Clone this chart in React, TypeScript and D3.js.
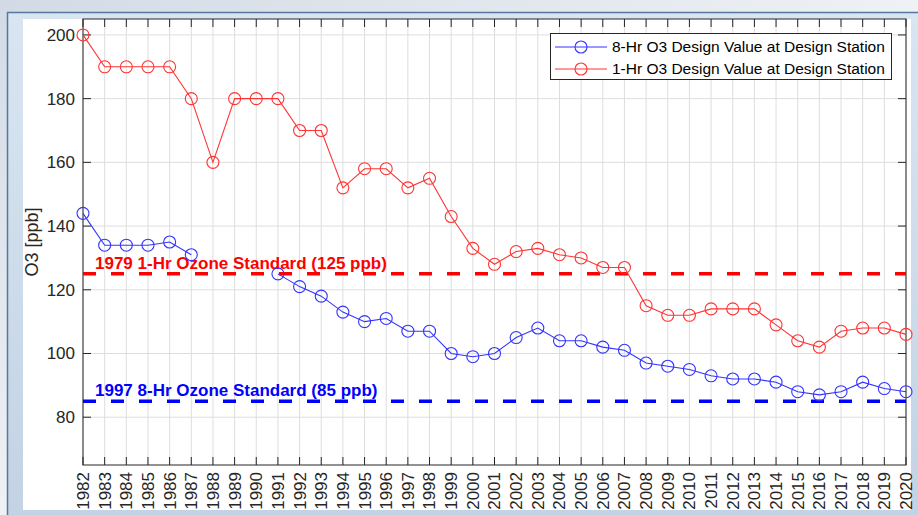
import * as d3 from "d3";

const years = d3.range(1982, 2021);
// 1-Hr design values (ppb), 1982..2020
const oneHr = [
  200, 190, 190, 190, 190, 180, 160, 180, 180, 180, 170, 170, 152, 158, 158, 152,
  155, 143, 133, 128, 132, 133, 131, 130, 127, 127, 115, 112, 112, 114, 114, 114,
  109, 104, 102, 107, 108, 108, 106,
];
// 8-Hr design values (ppb), no data 1988-1990
const eightHr: (number | null)[] = [
  144, 134, 134, 134, 135, 131, null, null, null, 125, 121, 118, 113, 110, 111,
  107, 107, 100, 99, 100, 105, 108, 104, 104, 102, 101, 97, 96, 95, 93, 92, 92,
  91, 88, 87, 88, 91, 89, 88,
];
const yTicks = [80, 100, 120, 140, 160, 180, 200];
const standards = [
  { value: 125, label: "1979 1-Hr Ozone Standard (125 ppb)", color: "#ff0000" },
  { value: 85, label: "1997 8-Hr Ozone Standard (85 ppb)", color: "#0000ff" },
];
const legendItems = [
  { label: "8-Hr O3 Design Value at Design Station", color: "#3333ff" },
  { label: "1-Hr O3 Design Value at Design Station", color: "#ff3333" },
];

const W = 918;
const H = 515;
const left = 83;
const right = 906;
const top = 19;
const bottom = 465;
const axisColor = "#262626";
const font = "'Liberation Sans', Arial, sans-serif";

export default function App() {
  const x = d3.scaleLinear().domain([1982, 2020]).range([left, right]);
  const y = d3.scaleLinear().domain([65, 205]).range([bottom, top]);

  const red = years.map((yr, i) => ({ yr, v: oneHr[i] as number | null }));
  const blue = years.map((yr, i) => ({ yr, v: eightHr[i] }));

  const line = d3
    .line<{ yr: number; v: number | null }>()
    .defined((d) => d.v != null)
    .x((d) => x(d.yr))
    .y((d) => y(d.v as number));

  const tickLen = 8;

  return (
    <svg
      width={W}
      height={H}
      style={{ display: "block", position: "absolute", left: 0, top: 0, fontFamily: font }}
    >
      <defs>
        <linearGradient id="sky" x1="0" y1="0" x2="1" y2="1">
          <stop offset="0" stopColor="#d2dbe5" />
          <stop offset="0.5" stopColor="#eef1f5" />
          <stop offset="1" stopColor="#c9d6e4" />
        </linearGradient>
        <linearGradient id="panel" x1="0" y1="0" x2="0" y2="1">
          <stop offset="0" stopColor="#d9e5f1" />
          <stop offset="1" stopColor="#c3d3e4" />
        </linearGradient>
      </defs>
      <rect x={0} y={0} width={W} height={H} fill="url(#sky)" />
      <rect x={7} y={12} width={W - 7} height={H - 12} fill="url(#panel)" />
      <line x1={7} y1={12.5} x2={W} y2={12.5} stroke="#56789f" strokeWidth={1.5} />
      <line x1={7.5} y1={12} x2={7.5} y2={H} stroke="#56789f" strokeWidth={1.5} />
      <rect x={23} y={19} width={888} height={491} fill="#ffffff" />

      {/* grid */}
      <g stroke="#dedede" strokeWidth={1}>
        {years.map((yr) => (
          <line key={"gx" + yr} x1={x(yr)} x2={x(yr)} y1={top} y2={bottom} />
        ))}
        {yTicks.map((t) => (
          <line key={"gy" + t} x1={left} x2={right} y1={y(t)} y2={y(t)} />
        ))}
      </g>

      {/* ticks */}
      <g stroke={axisColor} strokeWidth={1}>
        {years.map((yr) => (
          <g key={"tx" + yr}>
            <line x1={x(yr)} x2={x(yr)} y1={bottom} y2={bottom - tickLen} />
            <line x1={x(yr)} x2={x(yr)} y1={top} y2={top + tickLen} />
          </g>
        ))}
        {yTicks.map((t) => (
          <g key={"ty" + t}>
            <line x1={left} x2={left + tickLen} y1={y(t)} y2={y(t)} />
            <line x1={right} x2={right - tickLen} y1={y(t)} y2={y(t)} />
          </g>
        ))}
      </g>
      <rect
        x={left}
        y={top}
        width={right - left}
        height={bottom - top}
        fill="none"
        stroke={axisColor}
        strokeWidth={1}
      />

      {/* standards */}
      {standards.map((s) => (
        <g key={s.label}>
          <line
            x1={left}
            x2={right}
            y1={y(s.value)}
            y2={y(s.value)}
            stroke={s.color}
            strokeWidth={3.5}
            strokeDasharray="13 15"
          />
          <text
            x={95}
            y={y(s.value) - 5}
            fill={s.color}
            fontSize={17}
            fontWeight="bold"
          >
            {s.label}
          </text>
        </g>
      ))}

      {/* series */}
      <path d={line(red) || ""} fill="none" stroke="#ff3333" strokeWidth={1.1} />
      <path d={line(blue) || ""} fill="none" stroke="#3333ff" strokeWidth={1.1} />
      {red.map((d) => (
        <circle key={"r" + d.yr} cx={x(d.yr)} cy={y(d.v as number)} r={6} fill="none" stroke="#ff3333" strokeWidth={1.1} />
      ))}
      {blue
        .filter((d) => d.v != null)
        .map((d) => (
          <circle key={"b" + d.yr} cx={x(d.yr)} cy={y(d.v as number)} r={6} fill="none" stroke="#3333ff" strokeWidth={1.1} />
        ))}

      {/* tick labels */}
      <g fill={axisColor} fontSize={17}>
        {yTicks.map((t) => (
          <text key={"yl" + t} x={left - 8} y={y(t)} dy="0.35em" textAnchor="end">
            {t}
          </text>
        ))}
        {years.map((yr) => (
          <text
            key={"xl" + yr}
            transform={`translate(${x(yr)},${bottom + 7}) rotate(-90)`}
            dy="0.35em"
            textAnchor="end"
          >
            {yr}
          </text>
        ))}
      </g>
      <text
        transform={`translate(32,${(top + bottom) / 2}) rotate(-90)`}
        textAnchor="middle"
        dy="0.35em"
        fill={axisColor}
        fontSize={18}
      >
        O3 [ppb]
      </text>

      {/* legend */}
      <rect x={550.5} y={33.5} width={341} height={46} fill="#ffffff" stroke={axisColor} strokeWidth={1} />
      {legendItems.map((it, i) => {
        const ly = 47 + i * 22;
        return (
          <g key={it.label}>
            <line x1={555} x2={607} y1={ly} y2={ly} stroke={it.color} strokeWidth={1.1} />
            <circle cx={581} cy={ly} r={6} fill="none" stroke={it.color} strokeWidth={1.1} />
            <text x={612} y={ly} dy="0.35em" fontSize={15.5} fill="#000000">
              {it.label}
            </text>
          </g>
        );
      })}
    </svg>
  );
}
